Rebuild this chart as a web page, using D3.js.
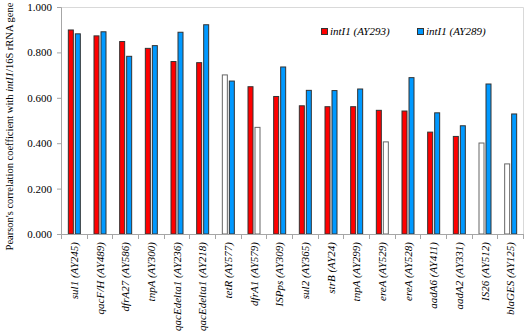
<!DOCTYPE html>
<html>
<head>
<meta charset="utf-8">
<script src="https://cdn.jsdelivr.net/npm/d3@7"></script>
<style>
  html, body { margin: 0; padding: 0; background: #fff; }
  svg { display: block; }
  svg text { font-family: "Liberation Serif", "DejaVu Serif", "Times New Roman", serif !important; fill: #000; }
</style>
</head>
<body>
<svg id="chart" width="526" height="332"></svg>
<script>
// ---- data ----
const genes = ["sul1", "qacF/H", "dfrA27", "tnpA", "qacEdelta1", "qacEdelta1", "tetR", "dfrA1", "ISPps",
  "sul2", "strB", "tnpA", "ereA", "ereA", "aadA6", "aadA2", "IS26", "blaGES"];
const accessions = ["AY245", "AY489", "AY586", "AY300", "AY236", "AY218", "AY577", "AY579", "AY309",
  "AY365", "AY24", "AY299", "AY529", "AY528", "AY411", "AY331", "AY512", "AY125"];
const seriesNames = ["intI1 (AY293)", "intI1 (AY289)"];
const valuesAY293 = [0.901, 0.875, 0.850, 0.820, 0.762, 0.757, 0.703, 0.651, 0.608,
  0.567, 0.563, 0.563, 0.547, 0.544, 0.451, 0.432, 0.403, 0.311];
const valuesAY289 = [0.884, 0.893, 0.785, 0.832, 0.891, 0.924, 0.676, 0.472, 0.738,
  0.635, 0.634, 0.641, 0.408, 0.691, 0.536, 0.479, 0.663, 0.531];
// true = shown as open (white) bar in the original
const openAY293 = [false, false, false, false, false, false, true, false, false,
  false, false, false, false, false, false, false, true, true];
const openAY289 = [false, false, false, false, false, false, false, true, false,
  false, false, false, true, false, false, false, false, false];
const yTicks = [0, 0.2, 0.4, 0.6, 0.8, 1.0];

// ---- layout ----
const FONT = '"Liberation Serif", "DejaVu Serif", serif';
const svg = d3.select("#chart");
const L = 61, R = 523, T = 7, B = 234;
const colors = ["#ff0000", "#0099ff"];

const x = d3.scaleBand().domain(d3.range(genes.length)).range([L, R]).padding(0);
const y = d3.scaleLinear().domain([0, 1]).range([B, T]);

// plot border (top/right)
svg.append("path")
  .attr("d", `M${L},${T + 0.5}H${R + 0.5}V${B}`)
  .attr("fill", "none").attr("stroke", "#d9d9d9").attr("stroke-width", 1);

// bars
const bw = 6;
const series = [
  { vals: valuesAY293, open: openAY293, color: colors[0], off: -6 },
  { vals: valuesAY289, open: openAY289, color: colors[1], off: 1 }
];
series.forEach(s => {
  svg.append("g").selectAll("rect").data(s.vals).join("rect")
    .attr("x", (d, i) => x(i) + x.bandwidth() / 2 + s.off + 0.5)
    .attr("y", d => y(d) + 0.5)
    .attr("width", bw - 1)
    .attr("height", d => y(0) - y(d) - 0.5)
    .attr("fill", (d, i) => s.open[i] ? "#ffffff" : s.color)
    .attr("stroke", (d, i) => s.open[i] ? "#666" : "#333")
    .attr("stroke-width", 1);
});

// y axis
const yAxis = d3.axisLeft(y).tickValues(yTicks).tickFormat(d3.format(".3f")).tickSize(4).tickPadding(5);
const gy = svg.append("g").attr("transform", `translate(${L},0)`).call(yAxis)
  .attr("font-family", FONT).style("font-family", FONT);
gy.select(".domain").attr("stroke", "#a6a6a6");
gy.selectAll(".tick line").attr("stroke", "#a6a6a6");
gy.selectAll(".tick text").attr("font-size", 11).style("font-family", FONT).attr("fill", "#000");

// x axis
const xEdges = d3.range(genes.length + 1).map(i => L + i * x.step());
const gx = svg.append("g");
gx.append("line").attr("x1", L - 4).attr("x2", R).attr("y1", B + 0.5).attr("y2", B + 0.5).attr("stroke", "#a6a6a6");
gx.selectAll(".xt").data(xEdges).join("line")
  .attr("x1", d => Math.round(d) + 0.5).attr("x2", d => Math.round(d) + 0.5)
  .attr("y1", B).attr("y2", B + 5).attr("stroke", "#a6a6a6");

// category labels
gx.selectAll(".lab").data(genes).join("text")
  .attr("transform", (d, i) => `translate(${x(i) + x.bandwidth() / 2 + 4},${B + 8}) rotate(-90)`)
  .attr("text-anchor", "end")
  .style("font-family", FONT)
  .attr("font-size", 11).attr("font-style", "italic")
  .text((d, i) => `${d} (${accessions[i]})`);

// y title
const yt = svg.append("text")
  .attr("transform", `translate(13,${(T + B) / 2 + 6}) rotate(-90)`)
  .attr("text-anchor", "middle").attr("font-size", 10.5).style("font-family", FONT);
yt.append("tspan").text("Pearson's correlation coefficient with ");
yt.append("tspan").attr("font-style", "italic").text("intI1");
yt.append("tspan").text("/16S rRNA gene");

// legend
const legX = [321, 417];
seriesNames.forEach((n, i) => {
  const g = svg.append("g").attr("transform", `translate(${legX[i]},28)`);
  g.append("rect").attr("x", 0.5).attr("y", 0.5).attr("width", 6).attr("height", 6)
    .attr("fill", colors[i]).attr("stroke", "#333").attr("stroke-width", 1);
  g.append("text").attr("x", 9).attr("y", 7).attr("font-size", 11).attr("font-style", "italic")
    .style("font-family", FONT).text(n);
});
</script>
</body>
</html>
